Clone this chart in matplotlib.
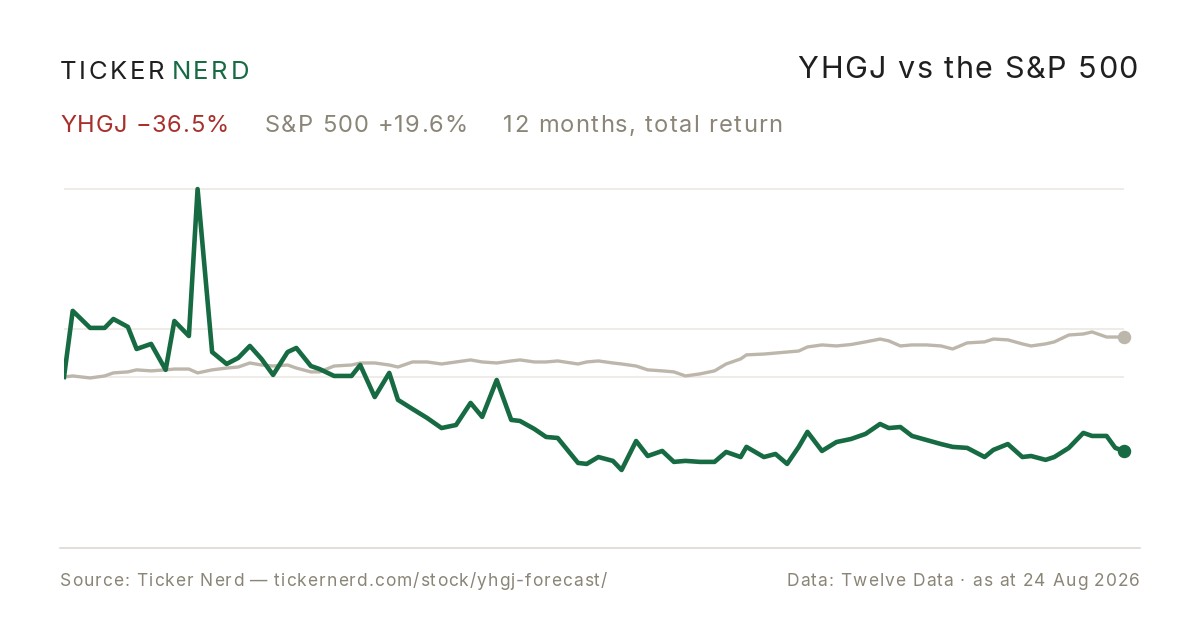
import matplotlib
matplotlib.use("Agg")
import matplotlib.pyplot as plt

# Daten: Tage seit Start, Gesamtrendite in %
days = [0, 3, 9, 14, 17, 22, 25, 30, 35, 38, 43, 46, 51, 56, 60, 64, 68, 72, 77, 80,
        85, 88, 93, 99, 102, 107, 112, 115, 120, 125, 130, 135, 140, 144, 149, 154, 157,
        162, 166, 170, 177, 180, 184, 189, 192, 197, 201, 206, 210, 214, 219, 224, 228,
        233, 235, 241, 245, 249, 253, 256, 261, 266, 271, 276, 281, 284, 288, 292, 297,
        302, 306, 311, 317, 320, 325, 330, 333, 338, 341, 346, 351, 354, 359, 362, 365]

yhgj = [0, 32.6, 24.2, 24.2, 28.6, 24.7, 13.8, 16.3, 3.5, 27.6, 20.2, 92.7, 12.3, 6.4,
        9.4, 15.3, 8.9, 1.0, 12.3, 14.3, 5.4, 3.9, 0.5, 0.5, 5.9, -9.9, 2.0, -11.3,
        -15.8, -20.2, -25.2, -23.7, -12.8, -19.7, -1.5, -21.2, -21.7, -25.7, -29.6,
        -30.1, -42.4, -42.9, -39.5, -41.4, -45.9, -31.6, -39.0, -36.5, -41.9, -41.4,
        -41.9, -41.9, -37.0, -39.5, -34.5, -39.5, -38.0, -42.9, -34.5, -27.1, -36.5,
        -32.1, -30.6, -28.1, -23.2, -25.2, -24.7, -29.1, -31.1, -33.1, -34.5, -35.0,
        -39.5, -36.0, -33.1, -39.5, -39.0, -40.9, -39.5, -35.0, -27.6, -29.1, -29.1,
        -35.0, -36.5]

spx = [0, 0.5, -0.5, 0.5, 2.0, 2.5, 3.5, 3.0, 3.5, 3.9, 3.9, 2.0, 3.5, 4.4, 4.9, 6.9,
       5.9, 5.4, 5.9, 4.4, 2.5, 2.5, 5.4, 5.9, 6.9, 6.9, 5.9, 4.9, 7.4, 7.4, 6.4, 7.4,
       8.4, 7.4, 6.9, 7.9, 8.4, 7.4, 7.4, 7.9, 6.4, 7.4, 7.9, 6.9, 6.4, 5.4, 3.5, 3.0,
       2.5, 0.5, 1.5, 3.0, 6.4, 8.9, 10.9, 11.3, 11.8, 12.3, 12.8, 14.8, 15.8, 15.3,
       16.0, 17.3, 18.7, 17.8, 15.3, 15.8, 15.8, 15.3, 13.8, 16.8, 17.3, 18.7, 18.3,
       16.3, 15.3, 16.3, 17.3, 20.7, 21.2, 22.2, 19.7, 19.7, 19.6]

grid_levels = [0, 23.7, 92.7]

GREEN = "#176b43"
SPX_GREY = "#bdb6ab"
TEXT_GREY = "#8a8577"
RED = "#a8302b"
DARK = "#1f1f1f"

plt.rcParams["font.family"] = ["Inter", "DejaVu Sans"]

fig = plt.figure(figsize=(12, 6.3), dpi=100)
fig.patch.set_facecolor("white")
renderer = fig.canvas.get_renderer()


def text_width(s, size):
    t = fig.text(0, 0, s, fontsize=size)
    w = t.get_window_extent(renderer).width
    t.remove()
    return w


def tracked(x, y, s, size, color, track, ha="left"):
    # Text mit Zeichenabstand, x/y in Pixeln von oben links
    total = text_width(s, size) + track * (len(s) - 1)
    x0 = x - total if ha == "right" else x
    for i, ch in enumerate(s):
        off = text_width(s[:i], size) if i else 0
        fig.text((x0 + off + i * track) / 1200, 1 - y / 630, ch, fontsize=size,
                 color=color, ha="left", va="baseline")
    return x0 + total


ax = fig.add_axes([64 / 1200, 100 / 630, 1060 / 1200, 360 / 630])
ax.set_facecolor("white")
for lvl in grid_levels:
    ax.axhline(lvl, color="#ece9e3", lw=1.2, zorder=0)
ax.plot(days, spx, color=SPX_GREY, lw=2.4, solid_joinstyle="round", zorder=2)
ax.plot(days, yhgj, color=GREEN, lw=3.3, solid_joinstyle="round", zorder=3)
ax.scatter([days[-1]], [spx[-1]], s=75, color=SPX_GREY, zorder=4, clip_on=False)
ax.scatter([days[-1]], [yhgj[-1]], s=75, color=GREEN, zorder=5, clip_on=False)
ax.set_xlim(days[0], days[-1])
ax.set_ylim(-75.5, 102.1)
ax.axis("off")

# Trennlinie unten
fig.add_artist(plt.Line2D([60 / 1200, 1140 / 1200], [1 - 548 / 630] * 2,
                          color="#dcd9d0", lw=1.2))

# Logo
end = tracked(60, 79, "TICKER", 18.5, DARK, 2.6)
tracked(end + 7, 79, "NERD", 18.5, GREEN, 2.6)

tracked(1138, 78, "YHGJ vs the S&P 500", 22, DARK, 1.5, ha="right")

tracked(60, 132, "YHGJ \u221236.5%", 17, RED, 0.8)
tracked(265, 132, "S&P 500 +19.6%", 17, TEXT_GREY, 1.2)
tracked(503, 132, "12 months, total return", 17, TEXT_GREY, 1.35)

tracked(60, 586, "Source: Ticker Nerd \u2014 tickernerd.com/stock/yhgj-forecast/",
        12.5, TEXT_GREY, 1.0)
tracked(1140, 586, "Data: Twelve Data \u00b7 as at 24 Aug 2026", 12.5, TEXT_GREY,
        1.05, ha="right")

fig.savefig("out.png", dpi=100, facecolor="white")
